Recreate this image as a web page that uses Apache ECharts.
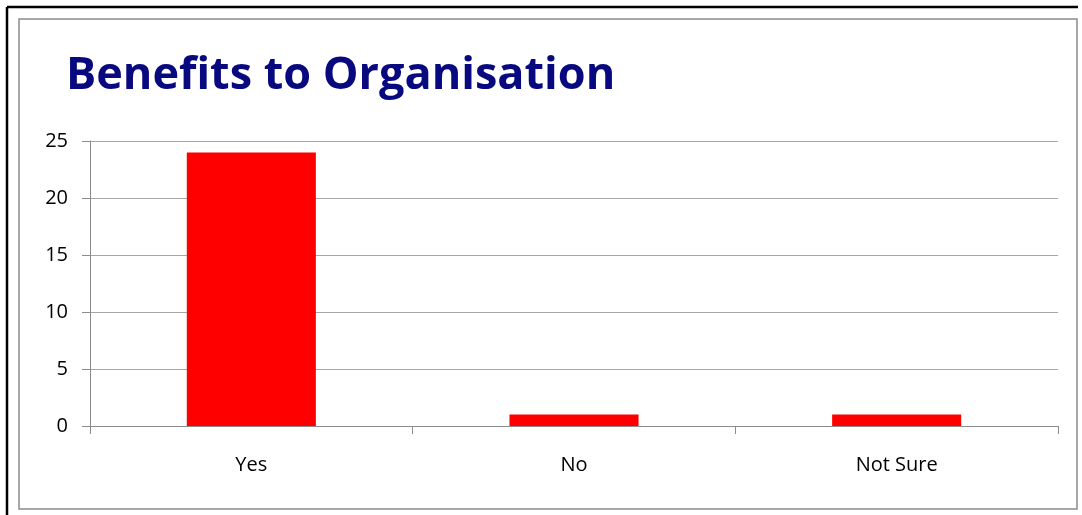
<!DOCTYPE html>
<html>
<head>
<meta charset="utf-8">
<script src="https://cdn.jsdelivr.net/npm/echarts@6/dist/echarts.min.js"></script>
<style>
  html, body { margin: 0; padding: 0; background: #fff; }
  #chart { width: 1082px; height: 515px; }
</style>
</head>
<body>
<div id="chart"></div>
<script>
// Survey answers: does the scheme benefit the organisation?
const categories = ['Yes', 'No', 'Not Sure'];
const responses = [24, 1, 1];
const yTicks = { min: 0, max: 25, interval: 5 };

const chart = echarts.init(document.getElementById('chart'), null, { renderer: 'canvas' });

const labelFont = '"Open Sans", "Liberation Sans", sans-serif';

chart.setOption({
  animation: false,
  backgroundColor: '#ffffff',
  title: {
    text: 'Benefits to Organisation',
    left: 61,
    top: 49,
    textStyle: {
      fontFamily: labelFont,
      fontWeight: 'bold',
      fontSize: 45,
      color: '#08087f'
    }
  },
  graphic: [
    // outer black frame (top and left edges)
    { type: 'line', shape: { x1: 7, y1: 7, x2: 1078, y2: 7 }, style: { stroke: '#000', lineWidth: 2.5 }, silent: true },
    { type: 'line', shape: { x1: 7, y1: 7, x2: 7, y2: 515 }, style: { stroke: '#000', lineWidth: 2.5 }, silent: true },
    // inner chart frame
    { type: 'rect', shape: { x: 19, y: 19, width: 1058, height: 490 }, style: { fill: 'none', stroke: '#8c8c8c', lineWidth: 1.5 }, silent: true }
  ],
  grid: {
    left: 90,
    right: 24,
    top: 141,
    bottom: 89,
    containLabel: false
  },
  xAxis: {
    type: 'category',
    data: categories,
    axisLine: { show: true, lineStyle: { color: '#8c8c8c', width: 1 } },
    axisTick: { show: true, length: 8, lineStyle: { color: '#8c8c8c' } },
    axisLabel: {
      margin: 29,
      fontFamily: labelFont,
      fontSize: 20,
      color: '#000'
    },
    splitLine: { show: false }
  },
  yAxis: {
    type: 'value',
    min: yTicks.min,
    max: yTicks.max,
    interval: yTicks.interval,
    axisLine: { show: true, lineStyle: { color: '#8c8c8c', width: 1 } },
    axisTick: { show: true, length: 8, lineStyle: { color: '#8c8c8c' } },
    axisLabel: {
      margin: 22,
      fontFamily: labelFont,
      fontSize: 20,
      color: '#000'
    },
    splitLine: { show: true, lineStyle: { color: '#a6a6a6', width: 1 } }
  },
  series: [{
    type: 'bar',
    data: responses,
    barCategoryGap: '60%',
    itemStyle: { color: '#ff0000' }
  }]
});
</script>
</body>
</html>
